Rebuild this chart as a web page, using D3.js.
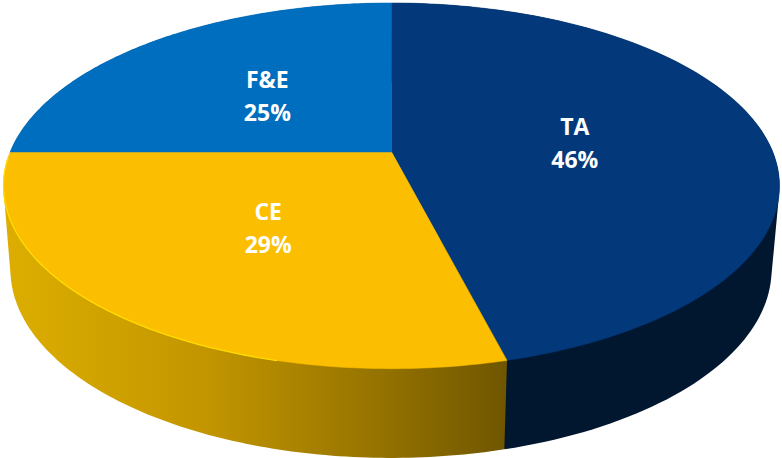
<!DOCTYPE html>
<html><head><meta charset="utf-8">
<script src="https://cdn.jsdelivr.net/npm/d3@7"></script>
<style>html,body{margin:0;padding:0;background:#fff}svg{display:block}</style>
</head><body><svg id="c" width="782" height="458"></svg>
<script>
const categories = ["TA","CE","F&E"];
const shares = [46,29,25];
const topColors = ["#03387A","#FBBE00","#006EBE"];
const sideColors = ["#00172F","url(#sideGold)","#00477A"];

const svg = d3.select("#c");
const k = 0.185;
const topRim = {cx:391.5, cy:152, R:381.3, S:176.6};
const baseRim = {cx:391, cy:234.6, R:374, S:182};
const project = (rim,a,r=1)=>{
  const u=r*Math.sin(a), v=-r*Math.cos(a), w=1-k*v;
  return [rim.cx+rim.R*u/w, rim.cy+rim.S*v/w];
};
const arcPoints=(rim,a0,a1)=>d3.range(0,121).map(i=>project(rim,a0+(a1-a0)*i/120));
const line=d3.line();
const arcs=d3.pie().sort(null)(shares);

const grad=svg.append("defs").append("linearGradient").attr("id","sideGold")
  .attr("gradientUnits","userSpaceOnUse").attr("x1",5).attr("x2",510).attr("y1",0).attr("y2",0);
[[0,"#DDAE00"],[0.4,"#C29500"],[0.75,"#947200"],[1,"#6E5500"]].forEach(s=>
  grad.append("stop").attr("offset",s[0]).attr("stop-color",s[1]));

// side walls: each slice's wall is the hull of its two rims, so the outline follows the tangent edge
const sideOrder=[2,0,1];
svg.append("g").selectAll("path").data(sideOrder).join("path")
  .attr("fill",i=>sideColors[i])
  .attr("d",i=>{
    const d=arcs[i];
    return line(d3.polygonHull([...arcPoints(topRim,d.startAngle,d.endAngle),...arcPoints(baseRim,d.startAngle,d.endAngle)]))+"Z";
  });

svg.append("g").selectAll("path").data(arcs).join("path")
  .attr("fill",(d,i)=>topColors[i])
  .attr("stroke",(d,i)=>topColors[i]).attr("stroke-width",0.5)
  .attr("d",d=>line([[topRim.cx,topRim.cy],...arcPoints(topRim,d.startAngle,d.endAngle)])+"Z");

svg.append("path").attr("fill","none").attr("stroke","#FFDC00").attr("stroke-width",1.3)
  .attr("d",line(arcPoints(topRim,arcs[1].startAngle+0.5,arcs[1].endAngle-0.03)));

const labels=svg.append("g").attr("fill","#fff").attr("text-anchor","middle")
  .attr("font-family","'Open Sans',sans-serif").attr("font-weight",700).attr("font-size",23)
  .selectAll("g").data(arcs).join("g")
  .attr("transform",d=>`translate(${project(topRim,(d.startAngle+d.endAngle)/2,0.49)})`);
labels.append("text").attr("y",-6).text((d,i)=>categories[i]);
labels.append("text").attr("y",27).text(d=>d.data+"%");
</script></body></html>
